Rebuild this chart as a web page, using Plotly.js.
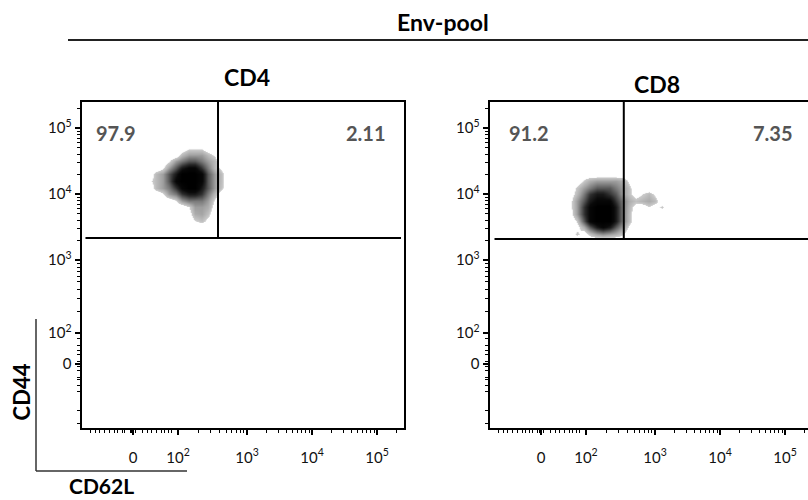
<!DOCTYPE html>
<html><head><meta charset="utf-8">
<script src="https://cdn.plot.ly/plotly-3.0.1.min.js"></script>
<style>html,body{margin:0;padding:0;background:#fff}</style>
</head><body><div id="chart" style="width:808px;height:500px"></div>
<script>
// ---- data ----
const groupTitle = 'Env-pool';
const panelTitles = ['CD4', 'CD8'];
const quadrantValues = [['97.9', '2.11'], ['91.2', '7.35']];
const xLabel = 'CD62L';
const yLabel = 'CD44';
// axis positions in display (biexponential) units
const xTickVals = [1.246, 1.938, 3, 4, 5];
const xTickText = ['0', '10<sup>2</sup>', '10<sup>3</sup>', '10<sup>4</sup>', '10<sup>5</sup>'];
const yTickVals = [1.424, 1.894, 3, 4, 5];
const yTickText = ['0', '10<sup>2</sup>', '10<sup>3</sup>', '10<sup>4</sup>', '10<sup>5</sup>'];
const xNearZeroTicks = [0.585, 0.662, 0.738, 0.815, 0.892, 0.969, 1.015, 1.077, 1.123, 1.2, 1.23, 1.26, 1.28, 1.385, 1.462, 1.538, 1.615, 1.692, 1.738, 1.785, 1.846];
const yNearZeroTicks = [0.53, 0.727, 1.015, 1.106, 1.182, 1.227, 1.333, 1.379, 1.41, 1.455, 1.561, 1.636, 1.712, 1.818];
// gates
const gateX = [2.554, 2.52];
const gateY = [3.333, 3.318];
// CD4 density grid
const cd4X = [1.4, 1.5, 1.6, 1.7, 1.8, 1.9, 2.0, 2.1, 2.2, 2.3, 2.4, 2.5, 2.6, 2.7, 2.8];
const cd4Y = [3.5, 3.6, 3.7, 3.8, 3.9, 4.0, 4.1, 4.2, 4.3, 4.4, 4.5, 4.6, 4.7, 4.8];
const cd4Z = [
  [0,0,0,0,0,0,0,0,0,0,0,0,0,0,0],
  [0,0,0,0,0,0,0,0,1.2,1.8,0.8,0,0,0,0],
  [0,0,0,0,0,0,0,0.5,2.5,2.8,1.8,0,0,0,0],
  [0,0,0,0,0,0,0,1.2,3,3,2.5,0.5,0,0,0],
  [0,0,0,0,0,1,3,4,4,4,3,1,0,0,0],
  [0,0,0,1,3,4,6,7,7,6,4,2,0.5,0,0],
  [0,0,2,3,4,6,8,9,9,7,5,3,1.8,0,0],
  [0,1,2,3,5,8,9,9,9,8,5,3,2,0,0],
  [0,0,2,3,5,7,9,9,9,8,5,3,2,0,0],
  [0,0,0,1,3,5,7,8,8,6,4,2,1,0,0],
  [0,0,0,0,1,3,4,5,5,4,3,2,0,0,0],
  [0,0,0,0,0,0,2,3,3,3,2,1,0,0,0],
  [0,0,0,0,0,0,0,1,1,1,0,0,0,0,0],
  [0,0,0,0,0,0,0,0,0,0,0,0,0,0,0]
];
// CD8 density grid
const cd8X = [1.6, 1.7, 1.8, 1.9, 2.0, 2.1, 2.2, 2.3, 2.4, 2.5, 2.6, 2.7, 2.8, 2.9, 3.0, 3.1, 3.2];
const cd8Y = [3.3, 3.4, 3.5, 3.6, 3.7, 3.8, 3.9, 4.0, 4.1, 4.2, 4.3];
const cd8Z = [
  [0,0,0,0,0,0,0,0,0,0,0,0,0,0,0,0,0],
  [0,0,1.7,0.3,1.8,3,3.5,3,2.5,1.5,0,0,0,0,0,0,0],
  [0,0,0.5,2.5,5,7,8,7,5,3,1,0,0,0,0,0,0],
  [0,0,1.5,5,8,9,9,9,7,4,2,0,0,0,0,0,0],
  [0,0.8,3,6,8,9,9,9,7,4,2,0,0,0,0,0,0],
  [0,1,3,6,8,9,9,9,7,4,2.2,0.5,0.3,1.2,0.5,1.6,0],
  [0,1,3,5,7,8,8,8,6,4,2.5,1.8,2.2,2.6,2,0,0],
  [0,0.5,2,4,6,7,7,6,5,3,1.8,0.5,1.2,2,1,0,0],
  [0,0,1.6,3,4,5,5,5,4,3,1.8,0,0,0,0,0,0],
  [0,0,0,1.5,2.5,3,3,3,3,2.5,1,0,0,0,0,0,0],
  [0,0,0,0,0,0,0,0,0,0,0,0,0,0,0,0,0]
];

// ---- minor ticks (log decades + near-zero region) ----
function decadeTicks(from, to) {
  const out = [];
  for (let k = 2; k <= 9; k++) out.push(from + Math.log10(k) * (to - from));
  return out;
}
const xMinor = xNearZeroTicks.concat(decadeTicks(1.938, 3), decadeTicks(3, 4), decadeTicks(4, 5), [5 + Math.log10(2)]);
const yMinor = yNearZeroTicks.concat(decadeTicks(1.894, 3), decadeTicks(3, 4), decadeTicks(4, 5), [5 + Math.log10(2)]);

const W = 808, H = 500;
const px = v => v / W, py = v => 1 - v / H;
const FONT = 'Lato, "Open Sans", sans-serif';

const traces = [
  {type: 'heatmap', x: cd4X, y: cd4Y, z: cd4Z, xaxis: 'x', yaxis: 'y', coloraxis: 'coloraxis', zsmooth: 'best', hoverinfo: 'skip'},
  {type: 'heatmap', x: cd8X, y: cd8Y, z: cd8Z, xaxis: 'x2', yaxis: 'y2', coloraxis: 'coloraxis', zsmooth: 'best', hoverinfo: 'skip'}
];

function xAxis(domain, range, anchor) {
  return {
    domain: domain, range: range, anchor: anchor,
    tickmode: 'array', tickvals: xTickVals, ticktext: xTickText,
    ticks: 'outside', ticklen: 5, tickwidth: 1.6, tickcolor: '#000',
    ticklabelstandoff: 10,
    minor: {tickmode: 'array', tickvals: xMinor, ticks: 'outside', ticklen: 3, tickwidth: 1, tickcolor: '#000'},
    showline: true, linewidth: 2, linecolor: '#000', mirror: true,
    showgrid: false, zeroline: false, fixedrange: true,
    tickfont: {family: FONT, size: 15, color: '#111'}
  };
}
function yAxis(domain, range, anchor, mirror) {
  return {
    domain: domain, range: range, anchor: anchor,
    tickmode: 'array', tickvals: yTickVals, ticktext: yTickText,
    ticks: 'outside', ticklen: 5, tickwidth: 1.6, tickcolor: '#000',
    ticklabelstandoff: 0,
    minor: {tickmode: 'array', tickvals: yMinor, ticks: 'outside', ticklen: 3, tickwidth: 1, tickcolor: '#000'},
    showline: true, linewidth: 2, linecolor: '#000', mirror: mirror,
    showgrid: false, zeroline: false, fixedrange: true,
    tickfont: {family: FONT, size: 15, color: '#111'}
  };
}

const yDom = [py(427.5), py(102)];
const yRange = [0.462, 5.394];

const shapes = [
  // gates panel 1
  {type: 'line', xref: 'x', yref: 'y', x0: gateX[0], x1: gateX[0], y0: gateY[0], y1: yRange[1], line: {color: '#000', width: 2}},
  {type: 'line', xref: 'x', yref: 'y', x0: 0.515, x1: 5.369, y0: gateY[0], y1: gateY[0], line: {color: '#000', width: 2}},
  // gates panel 2
  {type: 'line', xref: 'x2', yref: 'y2', x0: gateX[1], x1: gateX[1], y0: gateY[1], y1: yRange[1], line: {color: '#000', width: 2}},
  {type: 'line', xref: 'x2', yref: 'y2', x0: 0.531, x1: 5.354, y0: gateY[1], y1: gateY[1], line: {color: '#000', width: 2}},
  // group underline
  {type: 'line', xref: 'paper', yref: 'paper', x0: px(68), x1: 1, y0: py(40), y1: py(40), line: {color: '#222', width: 2}},
  // axis legend corner
  {type: 'line', xref: 'paper', yref: 'paper', x0: px(36), x1: px(36), y0: py(319), y1: py(471), line: {color: '#333', width: 1.5}},
  {type: 'line', xref: 'paper', yref: 'paper', x0: px(36), x1: px(187), y0: py(471), y1: py(471), line: {color: '#333', width: 1.5}}
];

const bold = (size, color) => ({family: FONT, size: size, color: color, weight: 'bold'});
const ann = (text, x, y, font, extra) => Object.assign({text: text, xref: 'paper', yref: 'paper', x: px(x), y: py(y), xanchor: 'center', yanchor: 'middle', showarrow: false, font: font}, extra || {});

const annotations = [
  ann(groupTitle, 443, 22, bold(23, '#000')),
  ann(panelTitles[0], 246.7, 77, bold(23, '#000')),
  ann(panelTitles[1], 656.7, 84, bold(23, '#000')),
  ann(quadrantValues[0][0], 116, 133, bold(20, '#555')),
  ann(quadrantValues[0][1], 366, 133, bold(20, '#555')),
  ann(quadrantValues[1][0], 529, 133, bold(20, '#555')),
  ann(quadrantValues[1][1], 773, 133, bold(20, '#555')),
  ann(yLabel, 21.7, 391.7, bold(22, '#000'), {textangle: -90}),
  ann(xLabel, 101, 499, bold(21, '#000'), {yanchor: 'bottom', borderpad: 0})
];

const layout = {
  width: W, height: H,
  margin: {l: 0, r: 0, t: 0, b: 0},
  paper_bgcolor: '#fff', plot_bgcolor: 'rgba(0,0,0,0)',
  showlegend: false,
  xaxis: xAxis([px(81.5), px(404)], [0.454, 5.415], 'y'),
  yaxis: yAxis(yDom, yRange, 'x', true),
  xaxis2: xAxis([px(489.5), 1], [0.454, 5.354], 'y2'),
  yaxis2: yAxis(yDom, yRange, 'x2', false),
  coloraxis: {
    cmin: 0, cmax: 9, showscale: false,
    colorscale: [[0, '#ffffff'], [0.14, '#ffffff'], [0.145, '#cdcdcd'], [0.3, '#a8a8a8'], [0.5, '#6a6a6a'], [0.7, '#2a2a2a'], [0.85, '#0a0a0a'], [1, '#000000']]
  },
  shapes: shapes,
  annotations: annotations
};

Plotly.newPlot('chart', traces, layout, {staticPlot: true, displayModeBar: false});
</script>
</body></html>
